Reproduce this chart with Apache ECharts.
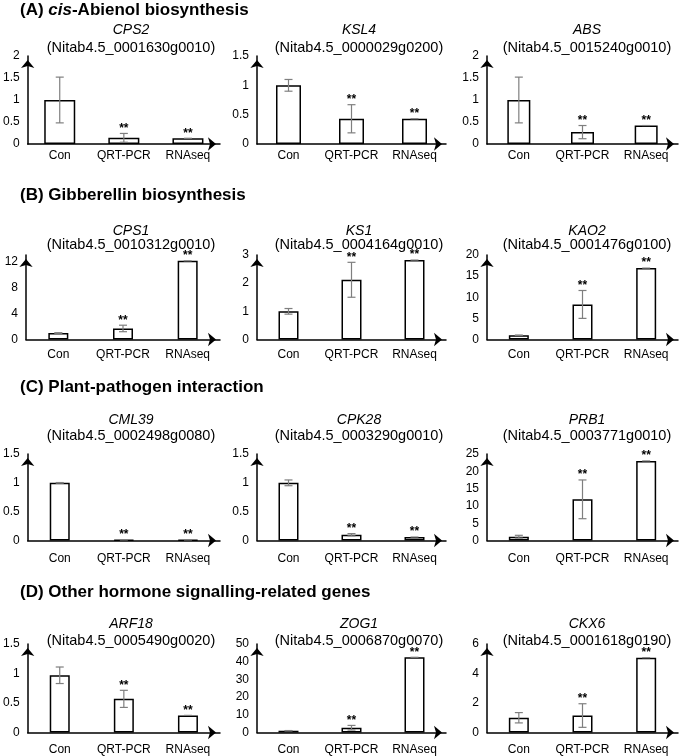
<!DOCTYPE html>
<html><head><meta charset="utf-8">
<script src="https://cdn.jsdelivr.net/npm/echarts@6/dist/echarts.min.js"></script>
<style>html,body{margin:0;padding:0;background:#fff}#c{width:685px;height:756px}</style>
</head><body><div id="c"></div>
<script>
// ---------- data ----------
const categories = ['Con', 'QRT-PCR', 'RNAseq'];
const starLabels = ['', '**', '**'];
const sectionTitles = [
  '(A) cis-Abienol biosynthesis',
  '(B) Gibberellin biosynthesis',
  '(C) Plant-pathogen interaction',
  '(D) Other hormone signalling-related genes'
];
const geneNames = ['CPS2', 'KSL4', 'ABS', 'CPS1', 'KS1', 'KAO2', 'CML39', 'CPK28', 'PRB1', 'ARF18', 'ZOG1', 'CKX6'];
const geneIds = [
  '(Nitab4.5_0001630g0010)', '(Nitab4.5_0000029g0200)', '(Nitab4.5_0015240g0010)',
  '(Nitab4.5_0010312g0010)', '(Nitab4.5_0004164g0010)', '(Nitab4.5_0001476g0100)',
  '(Nitab4.5_0002498g0080)', '(Nitab4.5_0003290g0010)', '(Nitab4.5_0003771g0010)',
  '(Nitab4.5_0005490g0020)', '(Nitab4.5_0006870g0070)', '(Nitab4.5_0001618g0190)'
];
const meanValues = [
  [1.0, 0.14, 0.13], [1.0, 0.43, 0.43], [1.0, 0.27, 0.42],
  [1.0, 1.7, 12.1], [1.0, 2.12, 2.82], [1.0, 8.3, 16.9],
  [1.0, 0.01, 0.01], [1.0, 0.1, 0.06], [1.1, 11.9, 23.0],
  [0.97, 0.57, 0.29], [1.0, 2.7, 42.5], [1.0, 1.15, 5.07]
];
const errorValues = [
  [0.52, 0.10, 0], [0.10, 0.24, 0], [0.52, 0.15, 0],
  [0.05, 0.5, 0], [0.10, 0.62, 0], [0.05, 3.3, 0],
  [0.005, 0, 0], [0.05, 0.02, 0], [0.4, 5.6, 0],
  [0.14, 0.145, 0], [0.1, 1.3, 0], [0.35, 0.8, 0]
];
const yMax = [2, 1.5, 2, 13, 3, 20, 1.5, 1.5, 25, 1.5, 50, 6];
const yInterval = [0.5, 0.5, 0.5, 4, 1, 5, 0.5, 0.5, 5, 0.5, 10, 2];

// ---------- layout ----------
const FONT = '"Liberation Sans", Arial, Helvetica, sans-serif';
const colLeft = [26, 257, 487], colWidth = [194, 189, 191];
const rowTop = [56, 255, 454, 644], rowHeight = [88, 84.5, 86.5, 89.5];
const titleTop = [1.5, 186.5, 378.5, 583.5];
const geneTop = [23, 224, 413, 617];
const geneGap = [3, -1, 1, 2];
const geneCx = [131, 359, 587];
const catMargin = [6, 9.5, 12, 11.5];
const barW = [[31, 25, 23], [20, 20, 20], [20, 20, 20], [20, 20, 20]];

const axisLine = {
  show: true,
  lineStyle: { color: '#000', width: 1.5 },
  symbol: ['none', 'arrow'],
  symbolSize: [10, 8],
  symbolOffset: [0, -4]
};

const grids = [], xAxes = [], yAxes = [], series = [], titles = [];

sectionTitles.forEach((t, r) => {
  const m = t.match(/^(\(A\) )(cis)(.*)$/);
  const txt = m ? '{b|' + m[1] + '}{bi|' + m[2] + '}{b|' + m[3] + '}' : '{b|' + t + '}';
  titles.push({
    text: txt, left: 20, top: titleTop[r], padding: 0,
    textStyle: {
      rich: {
        b: { fontWeight: 'bold', fontSize: 17, fontFamily: FONT, color: '#000' },
        bi: { fontWeight: 'bold', fontStyle: 'italic', fontSize: 17, fontFamily: FONT, color: '#000' }
      }
    }
  });
});

// error bars + significance marks
function makeErr(i) {
  return function (params, api) {
    const k = api.value(0), m = api.value(1), e = api.value(2);
    const pTop = api.coord([k, m + e]);
    const pBot = api.coord([k, Math.max(0, m - e)]);
    const x = pTop[0];
    const cap = 4;
    const st = { stroke: '#7f7f7f', lineWidth: 1.2 };
    const ch = [];
    if (e > 0) {
      ch.push({ type: 'line', shape: { x1: x, y1: pTop[1], x2: x, y2: pBot[1] }, style: st });
      ch.push({ type: 'line', shape: { x1: x - cap, y1: pBot[1], x2: x + cap, y2: pBot[1] }, style: st });
    }
    ch.push({ type: 'line', shape: { x1: x - cap, y1: pTop[1], x2: x + cap, y2: pTop[1] }, style: st });
    const s = starLabels[params.dataIndex];
    if (s) {
      ch.push({ type: 'text', x: x, y: pTop[1] + 1,
        style: { text: s, fill: '#000', font: 'bold 12px ' + FONT, align: 'center', verticalAlign: 'bottom' } });
    }
    return { type: 'group', children: ch };
  };
}

for (let i = 0; i < 12; i++) {
  const r = Math.floor(i / 3), c = i % 3;
  grids.push({ left: colLeft[c], top: rowTop[r], width: colWidth[c], height: rowHeight[r] });
  xAxes.push({
    gridIndex: i, type: 'category', data: categories,
    axisTick: { show: false }, axisLine: axisLine,
    axisLabel: { color: '#000', fontSize: 12, fontFamily: FONT, margin: catMargin[r], interval: 0 }
  });
  const iv = yInterval[i];
  yAxes.push({
    gridIndex: i, type: 'value', min: 0, max: yMax[i], interval: iv,
    splitLine: { show: false }, axisTick: { show: false }, axisLine: axisLine,
    axisLabel: {
      color: '#000', fontSize: 12, fontFamily: FONT, margin: 8,
      formatter: v => (Math.abs(v / iv - Math.round(v / iv)) < 1e-6 ? String(v) : '')
    }
  });
  series.push({
    type: 'bar', xAxisIndex: i, yAxisIndex: i, data: meanValues[i],
    barWidth: barW[r][c], silent: true,
    itemStyle: { color: '#fff', borderColor: '#000', borderWidth: 1.5 }
  });
  series.push({
    type: 'custom', xAxisIndex: i, yAxisIndex: i, z: 5, silent: true,
    data: categories.map((_, k) => [k, meanValues[i][k], errorValues[i][k]]),
    renderItem: makeErr(i)
  });
  titles.push({
    text: geneNames[i], subtext: geneIds[i],
    left: geneCx[c], top: geneTop[r], textAlign: 'center', itemGap: geneGap[r], padding: 0,
    textStyle: { fontStyle: 'italic', fontWeight: 'normal', fontSize: 14, fontFamily: FONT, color: '#000' },
    subtextStyle: { fontSize: 14.5, fontFamily: FONT, color: '#000' }
  });
}

const chart = echarts.init(document.getElementById('c'), null, { renderer: 'canvas' });
chart.setOption({
  animation: false,
  backgroundColor: '#fff',
  title: titles,
  grid: grids,
  xAxis: xAxes,
  yAxis: yAxes,
  series: series
});
</script>
</body></html>
